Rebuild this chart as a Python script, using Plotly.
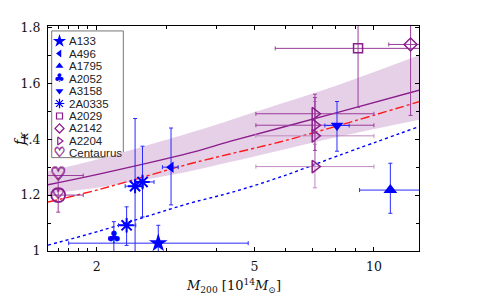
import plotly.graph_objects as go

# ---------------- data ----------------
curve_m    = [1.508, 2.039, 3.436, 4.333, 5.79, 8.20, 12.99]
fit_purple = [1.237, 1.276, 1.351, 1.392, 1.440, 1.498, 1.575]
band_upper = [1.285, 1.330, 1.423, 1.468, 1.526, 1.596, 1.700]
band_lower = [1.205, 1.228, 1.285, 1.318, 1.360, 1.410, 1.470]
fit_red    = [1.175, 1.221, 1.312, 1.347, 1.390, 1.450, 1.534]
fit_blue   = [1.021, 1.072, 1.171, 1.208, 1.264, 1.343, 1.445]

a133_m = [2.86];  a133_f = [1.028]
a133_mlo = [1.16]; a133_mhi = [1.96]; a133_flo = [0.06]; a133_fhi = [0.064]

a496_m = [3.08];  a496_f = [1.30]
a496_mlo = [0.15]; a496_mhi = [0.13]; a496_flo = [0.135]; a496_fhi = [0.14]

a1795_m = [11.0]; a1795_f = [1.218]
a1795_mlo = [1.8]; a1795_mhi = [3.0]; a1795_flo = [0.083]; a1795_fhi = [0.096]

a2052_m = [2.21]; a2052_f = [1.045]
a2052_mlo = [0.065]; a2052_mhi = [0.065]; a2052_flo = [0.06]; a2052_fhi = [0.06]

a3158_m = [8.07]; a3158_f = [1.449]
a3158_mlo = [0.55]; a3158_mhi = [0.59]; a3158_flo = [0.092]; a3158_fhi = [0.086]

a0335_m = [2.38, 2.50, 2.61]; a0335_f = [1.092, 1.232, 1.247]
a0335_mlo = [0.11, 0.14, 0.10]; a0335_mhi = [0.13, 0.12, 0.18]
a0335_flo = [0.072, 0.26, 0.125]; a0335_fhi = [0.066, 0.242, 0.128]

a2029_m = [9.12]; a2029_f = [1.725]
a2029_mlo = [3.48]; a2029_mhi = [5.0]; a2029_flo = [0.211]; a2029_fhi = [0.2]

a2142_m = [12.37]; a2142_f = [1.739]
a2142_mlo = [1.47]; a2142_mhi = [1.5]; a2142_flo = [0.254]; a2142_fhi = [0.2]

a2204_m = [7.10, 7.10]; a2204_f = [1.491, 1.450]
a2204_mlo = [2.06, 2.06]; a2204_mhi = [2.9, 2.9]
a2204_flo = [0.07, 0.09]; a2204_fhi = [0.07, 0.099]
a2204b_m = [7.10, 7.10]; a2204b_f = [1.412, 1.302]
a2204b_mlo = [2.06, 2.06]; a2204b_mhi = [2.9, 2.9]
a2204b_flo = [0.1, 0.076]; a2204b_fhi = [0.123, 0.08]

cen_m = [1.60, 1.60]; cen_f = [1.270, 1.200]
cen_mlo = [0.3, 0.3]; cen_mhi = [0.25, 0.25]; cen_flo = [0.0, 0.061]; cen_fhi = [0.0, 0.06]

legend_names = ["A133", "A496", "A1795", "A2052", "A3158", "2A0335",
                "A2029", "A2142", "A2204", "Centaurus"]

x_tick_vals = [2, 5, 10]
x_tick_text = ["2", "5", "10"]
x_minor_vals = [1.6, 1.7, 1.8, 1.9, 3, 4, 6, 7, 8, 9]
y_tick_vals = [1.0, 1.2, 1.4, 1.6, 1.8]
y_tick_text = ["1", "1.2", "1.4", "1.6", "1.8"]

# ---------------- styles ----------------
BLUE = "#0000ff"
BLUE_ERR = "#2a2aff"
PURPLE = "#8b1c8b"
PURPLE_ERR = "#9a3c9a"
PURPLE_LIGHT = "#c08ac0"
BAND = "#e6d0e8"
SERIF = "DejaVu Serif"
SANS = "Liberation Sans"
THICK = ("0.7px 0 0 {c}, -0.7px 0 0 {c}, 0 0.7px 0 {c}, 0 -0.7px 0 {c}").format(c=PURPLE)
THIN = ("0.4px 0 0 {c}, -0.4px 0 0 {c}, 0 0.4px 0 {c}, 0 -0.4px 0 {c}").format(c=PURPLE)


def ebars(lo, hi, color):
    return dict(type="data", symmetric=False, array=hi, arrayminus=lo,
                color=color, thickness=1, width=2)


fig = go.Figure()

# band
fig.add_trace(go.Scatter(x=curve_m, y=band_upper, mode="lines",
                         line=dict(width=0, color=BAND), line_shape="spline",
                         showlegend=False, hoverinfo="skip"))
fig.add_trace(go.Scatter(x=curve_m, y=band_lower, mode="lines",
                         line=dict(width=0, color=BAND), line_shape="spline",
                         fill="tonexty", fillcolor=BAND,
                         showlegend=False, hoverinfo="skip"))
# fits
fig.add_trace(go.Scatter(x=curve_m, y=fit_purple, mode="lines", line_shape="spline",
                         line=dict(color=PURPLE, width=1.4), showlegend=False))
fig.add_trace(go.Scatter(x=curve_m, y=fit_red, mode="lines", line_shape="spline",
                         line=dict(color="#ff1a1a", width=1.4, dash="dashdot"),
                         showlegend=False))
fig.add_trace(go.Scatter(x=curve_m, y=fit_blue, mode="lines", line_shape="spline",
                         line=dict(color=BLUE, width=1.4, dash="dot"),
                         showlegend=False))


def add_pts(m, f, mlo, mhi, flo, fhi, symbol, color, ecolor, size, lw=1.5):
    fig.add_trace(go.Scatter(
        x=m, y=f, mode="markers",
        marker=dict(symbol=symbol, color=color, size=size,
                    line=dict(color=color, width=lw)),
        error_x=ebars(mlo, mhi, ecolor), error_y=ebars(flo, fhi, ecolor),
        showlegend=False))


# purple clusters
add_pts(a2204b_m, a2204b_f, a2204b_mlo, a2204b_mhi, a2204b_flo, a2204b_fhi,
        "triangle-right-open", PURPLE, PURPLE_LIGHT, 11)
add_pts(a2204_m, a2204_f, a2204_mlo, a2204_mhi, a2204_flo, a2204_fhi,
        "triangle-right-open", PURPLE, PURPLE_ERR, 11)
add_pts(a2029_m, a2029_f, a2029_mlo, a2029_mhi, a2029_flo, a2029_fhi,
        "square-open", PURPLE, PURPLE_ERR, 9)
add_pts(a2142_m, a2142_f, a2142_mlo, a2142_mhi, a2142_flo, a2142_fhi,
        "diamond-open", PURPLE, PURPLE_ERR, 10)

# Centaurus: error bars + heart glyphs (+ circle on the second)
fig.add_trace(go.Scatter(x=cen_m, y=cen_f, mode="markers",
                         marker=dict(size=1, color="rgba(0,0,0,0)"),
                         error_x=ebars(cen_mlo, cen_mhi, PURPLE_ERR),
                         error_y=ebars(cen_flo, cen_fhi, PURPLE_ERR),
                         showlegend=False))
fig.add_trace(go.Scatter(x=cen_m[1:], y=cen_f[1:], mode="markers",
                         marker=dict(symbol="circle-open", size=14, color=PURPLE,
                                     line=dict(color=PURPLE, width=1.8)),
                         showlegend=False))
fig.add_trace(go.Scatter(x=cen_m, y=cen_f, mode="text", text=["♡", "♡"],
                         textposition="middle center",
                         textfont=dict(family="DejaVu Sans", size=[18, 14], color=PURPLE,
                                       weight="bold", shadow=THICK),
                         showlegend=False))

# blue clusters
add_pts(a133_m, a133_f, a133_mlo, a133_mhi, a133_flo, a133_fhi, "star", BLUE, BLUE_ERR, 14, 0)
add_pts(a496_m, a496_f, a496_mlo, a496_mhi, a496_flo, a496_fhi, "triangle-left", BLUE, BLUE_ERR, 10, 0)
add_pts(a1795_m, a1795_f, a1795_mlo, a1795_mhi, a1795_flo, a1795_fhi, "triangle-up", BLUE, BLUE_ERR, 12, 0)
add_pts(a3158_m, a3158_f, a3158_mlo, a3158_mhi, a3158_flo, a3158_fhi, "triangle-down", BLUE, BLUE_ERR, 11, 0)
add_pts(a0335_m, a0335_f, a0335_mlo, a0335_mhi, a0335_flo, a0335_fhi, "asterisk-open", BLUE, BLUE_ERR, 12, 2)
fig.add_trace(go.Scatter(x=a2052_m, y=a2052_f, mode="markers",
                         marker=dict(size=1, color="rgba(0,0,0,0)"),
                         error_x=ebars(a2052_mlo, a2052_mhi, BLUE_ERR),
                         error_y=ebars(a2052_flo, a2052_fhi, BLUE_ERR),
                         showlegend=False))
fig.add_trace(go.Scatter(x=a2052_m, y=a2052_f, mode="text", text=["♣"],
                         textposition="middle center",
                         textfont=dict(family="DejaVu Sans", size=17, color=BLUE),
                         showlegend=False))

# ---------------- hand-made legend (overlay axes 0..1) ----------------
leg_symbols = ["star", "triangle-left", "triangle-up", "♣", "triangle-down",
               "asterisk-open", "square-open", "diamond-open", "triangle-right-open", "♡"]
leg_colors = [BLUE] * 6 + [PURPLE] * 4
leg_sizes = [10, 7, 7, 12, 7, 8, 6, 7, 7, 13]
row0, row_step = 0.933, 0.0555
sym_x, txt_x = 0.031, 0.052
for i, name in enumerate(legend_names):
    yy = row0 - i * row_step
    sym = leg_symbols[i]
    if sym in ("♣", "♡"):
        tf = dict(family="DejaVu Sans", size=leg_sizes[i], color=leg_colors[i], weight="bold")
        if sym == "♡":
            tf["shadow"] = THIN
        fig.add_trace(go.Scatter(
            x=[sym_x], y=[yy], xaxis="x2", yaxis="y2", mode="text", text=[sym],
            textposition="middle center", textfont=tf,
            showlegend=False, hoverinfo="skip"))
    else:
        open_ = sym.endswith("open")
        fig.add_trace(go.Scatter(
            x=[sym_x], y=[yy], xaxis="x2", yaxis="y2", mode="markers",
            marker=dict(symbol=sym, size=leg_sizes[i], color=leg_colors[i],
                        line=dict(color=leg_colors[i], width=1.2 if open_ else 0)),
            showlegend=False, hoverinfo="skip"))
    fig.add_annotation(x=txt_x, y=yy, xref="paper", yref="paper", text=name,
                       showarrow=False, xanchor="left", yanchor="middle",
                       font=dict(family=SANS, size=11.5, color="#222"))
fig.add_shape(type="rect", xref="paper", yref="paper", x0=0.01, x1=0.203,
              y0=0.415, y1=0.978, line=dict(color="#777", width=1),
              fillcolor="white", layer="below")

# axis titles
fig.add_annotation(x=-0.104, y=0.50, xref="paper", yref="paper",
                   text="<i>f</i><sub><i>K</i></sub>", textangle=-90, showarrow=False,
                   font=dict(family=SERIF, size=14, color="#111"))
fig.add_annotation(x=0.5, y=-0.155, xref="paper", yref="paper",
                   text="<i>M</i><sub>200</sub> [10<sup>14</sup><i>M</i><sub>⊙</sub>]",
                   showarrow=False, yanchor="middle",
                   font=dict(family=SERIF, size=13, color="#111"))

axis_common = dict(showline=True, linecolor="black", linewidth=1.2, mirror="allticks",
                   ticks="inside", ticklen=4, tickcolor="black", showgrid=False,
                   zeroline=False, tickfont=dict(family=SERIF, size=12.5, color="#111"))
# page body has an 8px default margin, so the figure is 8px smaller and margins shifted
fig.update_layout(
    width=470, height=290,
    margin=dict(l=40, r=58.7, t=12, b=47.3),
    paper_bgcolor="white", plot_bgcolor="white", showlegend=False,
    xaxis=dict(type="log", range=[0.1784, 1.1136], tickvals=x_tick_vals,
               ticktext=x_tick_text, ticklabelstandoff=4,
               minor=dict(tickvals=x_minor_vals, ticks="inside", ticklen=3,
                          tickcolor="black", showgrid=False),
               **axis_common),
    yaxis=dict(range=[1.0, 1.805], tickvals=y_tick_vals, ticktext=y_tick_text,
               ticklabelstandoff=4,
               minor=dict(tickvals=[1.1, 1.3, 1.5, 1.7], ticks="inside", ticklen=3,
                          tickcolor="black", showgrid=False),
               **axis_common),
    xaxis2=dict(overlaying="x", range=[0, 1], visible=False, anchor="y2"),
    yaxis2=dict(overlaying="y", range=[0, 1], visible=False, anchor="x2"),
)

fig.write_html("out.html")
